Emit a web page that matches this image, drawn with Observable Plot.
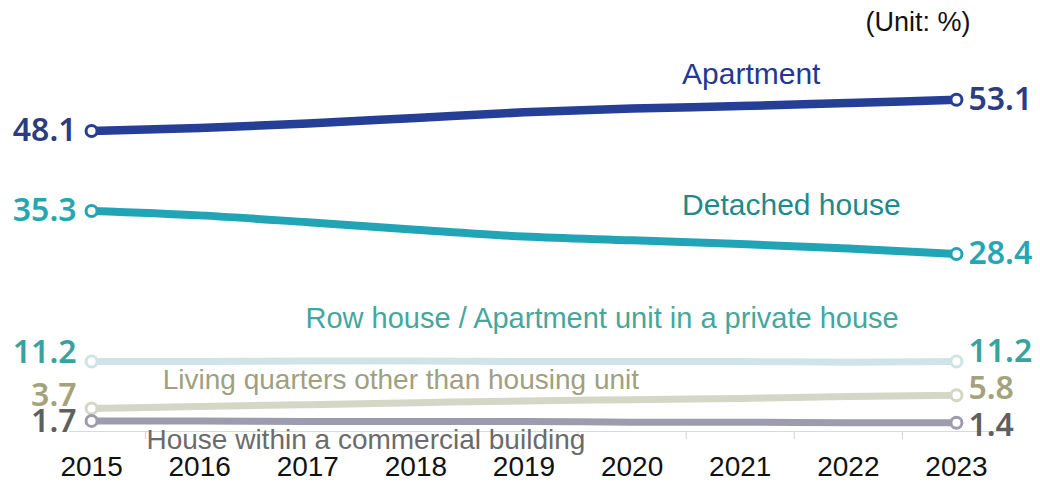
<!DOCTYPE html>
<html>
<head>
<meta charset="utf-8">
<script src="https://cdn.jsdelivr.net/npm/d3@7"></script>
<script src="https://cdn.jsdelivr.net/npm/@observablehq/plot@0.6"></script>
<style>
  html, body { margin: 0; padding: 0; background: #fff; }
  #chart { width: 1040px; height: 488px; position: relative; }
</style>
</head>
<body>
<div id="chart"></div>
<script>
// ---- data ----
const years = [2015, 2016, 2017, 2018, 2019, 2020, 2021, 2022, 2023];
const apartment      = [48.1, 48.6, 49.3, 50.2, 51.1, 51.7, 52.1, 52.6, 53.1];
const detached       = [35.3, 34.6, 33.5, 32.3, 31.2, 30.6, 30.0, 29.3, 28.4];
const rowHouse       = [11.2, 11.2, 11.3, 11.3, 11.2, 11.2, 11.2, 11.1, 11.2];
const livingQuarters = [3.7, 4.0, 4.3, 4.6, 4.9, 5.1, 5.3, 5.6, 5.8];
const commercial     = [1.7, 1.7, 1.6, 1.6, 1.6, 1.5, 1.5, 1.4, 1.4];
const seriesNames = [
  "Apartment",
  "Detached house",
  "Row house / Apartment unit in a private house",
  "Living quarters other than housing unit",
  "House within a commercial building"
];
const unitLabel = "(Unit: %)";

// ---- styles (not data) ----
const styles = [
  {name: seriesNames[2], values: rowHouse, line: "#cfe4e7", label: "#45a79c", num: "#36a39f", width: 7,
   leftDy: -9, rightDy: -10, annIdx: 5, annDx: -30, annDy: -43, annSize: 29},
  {name: seriesNames[3], values: livingQuarters, line: "#d4d7c6", label: "#9fa080", num: "#a3a27b", width: 7,
   leftDy: -13, rightDy: -7, annIdx: 3, annDx: -15, annDy: -23, annSize: 28},
  {name: seriesNames[4], values: commercial, line: "#9d9cae", label: "#6b6b6b", num: "#5f5f60", width: 7,
   leftDy: 1, rightDy: 3, annIdx: 3, annDx: -50, annDy: 19, annSize: 28},
  {name: seriesNames[1], values: detached, line: "#21a4b6", label: "#1f8a8c", num: "#25a7b2", width: 8,
   leftDy: 0, rightDy: 0, annIdx: 7, annDx: -57, annDy: -43, annSize: 30},
  {name: seriesNames[0], values: apartment, line: "#243f95", label: "#24388f", num: "#2c3d7f", width: 8.5,
   leftDy: 0, rightDy: 0, annIdx: 6, annDx: 11, annDy: -32, annSize: 30}
];

const x0 = years[0] - 0.5, x1 = years[years.length - 1] + 0.5;
const boundaries = years.slice(1).map(y => ({x: y - 0.5, y1: 0, y2: -1.3}));

const marks = [];
// baseline + boundary ticks
marks.push(Plot.ruleY([{y: 0, x1: x0 + 0.3, x2: x1}], {y: "y", x1: "x1", x2: "x2", stroke: "#d9d9d9", strokeWidth: 1.2}));
marks.push(Plot.ruleX(boundaries, {x: "x", y1: "y1", y2: "y2", stroke: "#d9d9d9", strokeWidth: 1.2}));

for (const s of styles) {
  const rows = years.map((yr, i) => ({year: yr, value: s.values[i]}));
  const ends = [rows[0], rows[rows.length - 1]];
  marks.push(Plot.line(rows, {x: "year", y: "value", stroke: s.line, strokeWidth: s.width, curve: "monotone-x", strokeLinecap: "round"}));
  marks.push(Plot.dot(ends, {x: "year", y: "value", r: 5.5, fill: "white", stroke: s.line, strokeWidth: 3}));
  marks.push(Plot.text([rows[0]], {x: "year", y: "value", text: d => d.value.toFixed(1), textAnchor: "end", dx: -15, dy: s.leftDy,
    fill: s.num, fontSize: 32, fontWeight: 600, fontFamily: "Noto Sans"}));
  marks.push(Plot.text([rows[rows.length - 1]], {x: "year", y: "value", text: d => d.value.toFixed(1), textAnchor: "start", dx: 12, dy: s.rightDy,
    fill: s.num, fontSize: 32, fontWeight: 600, fontFamily: "Noto Sans"}));
  marks.push(Plot.text([rows[s.annIdx]], {x: "year", y: "value", text: () => s.name, textAnchor: "middle", dx: s.annDx, dy: s.annDy,
    fill: s.label, fontSize: s.annSize, fontFamily: "Liberation Sans"}));
}

// year labels
marks.push(Plot.text(years, {x: d => d, y: () => 0, dy: 36, text: d => String(d), fill: "#111", fontSize: 28, fontFamily: "Liberation Sans"}));
// unit
marks.push(Plot.text([unitLabel], {x: () => x1, y: () => apartment[apartment.length - 1], dx: -40, dy: -77, textAnchor: "end",
  text: d => d, fill: "#111", fontSize: 27, fontFamily: "Liberation Sans"}));

const chart = Plot.plot({
  width: 1040,
  height: 488,
  marginTop: 0, marginBottom: 57, marginLeft: 0, marginRight: 0,
  x: {type: "linear", domain: [x0, x1], range: [37, 1010], axis: null},
  y: {type: "linear", domain: [0, 69], range: [431, 0], axis: null},
  style: {background: "white", overflow: "visible"},
  marks
});
document.getElementById("chart").appendChild(chart);
</script>
</body>
</html>
